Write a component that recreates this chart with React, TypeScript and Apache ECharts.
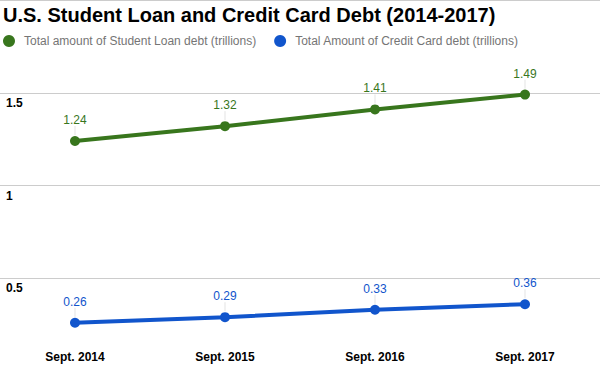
import React, { useEffect, useRef } from "react";
import * as echarts from "echarts";

const categories = ["Sept. 2014", "Sept. 2015", "Sept. 2016", "Sept. 2017"];
const studentLoan = [1.24, 1.32, 1.41, 1.49];
const creditCard = [0.26, 0.29, 0.33, 0.36];
const seriesNames = [
  "Total amount of Student Loan debt (trillions)",
  "Total Amount of Credit Card debt (trillions)",
];
const colors = ["#38761d", "#1155cc"];
const titleText = "U.S. Student Loan and Credit Card Debt (2014-2017)";

const FONT = "'Liberation Sans', Arial, sans-serif";

export default function App() {
  const ref = useRef<HTMLDivElement>(null);
  useEffect(() => {
    if (!ref.current) return;
    const chart = echarts.init(ref.current, undefined, { renderer: "svg" });
    const leader = (vals: number[]) => ({
      type: "custom",
      silent: true,
      z: 1,
      data: vals.map((v, i) => [i, v]),
      renderItem: (params: any, api: any) => {
        const p = api.coord([api.value(0), api.value(1)]);
        return {
          type: "line",
          shape: { x1: p[0], y1: p[1] - 6, x2: p[0], y2: p[1] - 15 },
          style: { stroke: "#e3e3e3", lineWidth: 1 },
        };
      },
    });
    const lineSeries = (name: string, vals: number[], color: string) => ({
      name,
      type: "line",
      data: vals,
      z: 3,
      symbol: "circle",
      symbolSize: 10,
      lineStyle: { color, width: 4 },
      itemStyle: { color },
      label: {
        show: true,
        position: "top",
        distance: 10,
        color,
        fontSize: 12,
        fontFamily: FONT,
      },
    });
    chart.setOption({
      animation: false,
      textStyle: { fontFamily: FONT },
      title: {
        text: titleText,
        left: 3,
        top: 5,
        padding: 0,
        textStyle: {
          fontSize: 20,
          fontWeight: "bold",
          color: "#000",
          fontFamily: FONT,
        },
      },
      legend: {
        left: 3,
        top: 35,
        padding: 0,
        icon: "circle",
        itemWidth: 12,
        itemHeight: 12,
        itemGap: 18,
        data: seriesNames,
        textStyle: {
          color: "#757575",
          fontSize: 12,
          fontFamily: FONT,
          padding: [0, 0, 0, 4],
        },
      },
      grid: { left: 0, right: -3, top: 0, bottom: 0, containLabel: false },
      xAxis: {
        type: "category",
        data: categories,
        boundaryGap: true,
        axisLine: { show: false },
        axisTick: { show: false },
        axisLabel: {
          inside: true,
          margin: 8,
          color: "#000",
          fontWeight: "bold",
          fontSize: 12,
          fontFamily: FONT,
        },
      },
      yAxis: {
        type: "value",
        min: 0,
        max: 2,
        interval: 0.5,
        axisLine: { show: false },
        axisTick: { show: false },
        splitLine: { lineStyle: { color: "#cccccc", width: 1 } },
        axisLabel: {
          inside: true,
          margin: 6,
          align: "left",
          verticalAlign: "top",
          padding: [4, 0, 0, 0],
          color: "#000",
          fontWeight: "bold",
          fontSize: 12,
          fontFamily: FONT,
          formatter: (v: number) => (v === 0 || v === 2 ? "" : String(v)),
        },
      },
      series: [
        leader(studentLoan),
        leader(creditCard),
        lineSeries(seriesNames[0], studentLoan, colors[0]),
        lineSeries(seriesNames[1], creditCard, colors[1]),
      ],
    });
    return () => chart.dispose();
  }, []);
  return (
    <div
      ref={ref}
      style={{ position: "absolute", left: 0, top: 0, width: 600, height: 371 }}
    />
  );
}
